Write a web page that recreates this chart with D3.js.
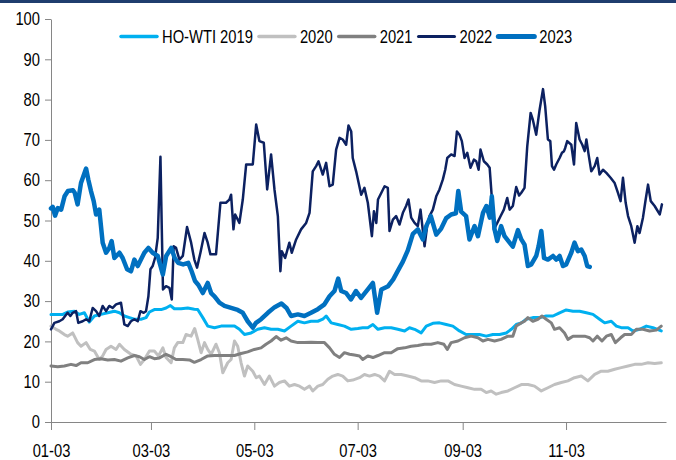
<!DOCTYPE html>
<html>
<head>
<meta charset="utf-8">
<script src="https://cdn.jsdelivr.net/npm/d3@7"></script>
<style>
    body { margin: 0; background: #fff; }
    svg text {
        font-family: "Liberation Sans", Arial, sans-serif;
        font-size: 18px;
        fill: #000;
    }
</style>
</head>
<body>
<svg id="chart"></svg>
<script>
// Dimensions
const width = 676;
const height = 460;
// narrow look: Liberation Sans squeezed horizontally
const squeeze = 0.82;

// x = days after 01-03, y = HO-WTI spread
const tickDays = [0, 59, 120, 181, 243, 304];
const tickLabels = ["01-03", "03-03", "05-03", "07-03", "09-03", "11-03"];
const yTicks = [0, 10, 20, 30, 40, 50, 60, 70, 80, 90, 100];

const seriesNames = ["HO-WTI 2019", "2020", "2021", "2022", "2023"];
const seriesColors = ["#00b0f0", "#c0c0c0", "#808080", "#0c2161", "#0070c0"];
const seriesWidths = [3, 3, 3, 2.5, 4.5];

const hoWti2019 = [[0,26.7],[4,26.7],[7,26.7],[9.8,27.3],[13.8,27.5],[16.7,26.7],[19.7,27.1],[22.6,24.8],[25.6,26.3],[29.5,26.7],[33.5,27.1],[37.4,27.5],[40.4,27.1],[43.3,26.3],[46.3,25.9],[49.2,25.5],[53.1,25.5],[56.1,25.9],[58.1,27.3],[61,27.9],[65,27.9],[67.9,28.3],[70.5,28.9],[72.8,28.1],[76.8,28.1],[80.7,28.3],[84.6,28],[86.6,27.9],[89.6,25.9],[92.5,23.8],[96.5,23.4],[100.4,23.8],[104.3,23.8],[108.3,23.8],[111.2,23],[114.2,21.7],[118.1,22.1],[122,23],[126,23.4],[129.9,23],[133.9,23],[137.8,22.6],[141.7,23.8],[145.7,25],[149.6,24.6],[153.5,25],[157.5,25],[160.4,25.5],[162.4,26.3],[165.4,24.6],[169.3,24.2],[173.2,23.8],[177.2,23],[181.1,23.2],[184,23.4],[187,23.4],[190,24.2],[193,23],[196.9,23.4],[200.8,23.4],[204.7,23],[208.7,22.6],[211.6,23.4],[214.6,23],[218.5,22.1],[221.5,23.8],[225.4,24.5],[229.3,24.6],[233.3,24.2],[237.2,23.8],[241.1,22.6],[245,21.7],[249,21.7],[252.9,21.7],[256.9,21.3],[260.8,21.7],[264.8,21.7],[268.7,22.1],[271.7,23],[274.6,24.2],[277.6,24.6],[280.5,25.5],[284.4,25.9],[288.4,25.9],[292.3,26.3],[296.3,26.3],[300.2,27.1],[304.1,27.8],[308.1,27.5],[312,27.5],[316,27.1],[319.9,26.7],[323.8,25.5],[326.8,24.6],[330.7,25],[333.7,23.8],[336.6,23.4],[340.6,23.4],[343.5,22.6],[347.4,23],[351.4,23.8],[355.3,23.4],[360.2,22.6]];

const hoWti2020 = [[0,23.8],[3,23],[4.9,22.6],[7.9,21.7],[9.8,21.3],[12.8,22.1],[15.7,19.7],[17.7,18.8],[20.7,19.7],[23.2,18],[25.6,17.6],[28.5,15.5],[30.5,16.4],[32.5,18],[35.4,18.8],[38.4,18],[40.4,19.3],[43.3,18],[47.2,16.8],[50.2,16.4],[52.8,14.3],[55.1,15.5],[58.1,17.6],[61,17.6],[63.4,16.4],[66,18.4],[67.9,16],[70.9,14.7],[72.8,18.4],[74.8,19.7],[77.8,19.7],[79.7,21.7],[82.7,21.3],[84.8,23.2],[86.6,20.5],[88.6,17.2],[90.6,19.7],[92.5,18],[94.5,16.8],[97.4,19.3],[99.4,17.2],[101.4,12.2],[104.3,14.7],[106.3,15.5],[108.3,20.1],[110.2,18.8],[112.2,14.7],[114.2,11.4],[116.1,13.9],[119.1,12.6],[121.1,11],[123,11.4],[126,9.3],[128.9,11.4],[131.9,8.9],[134.8,9.8],[137.8,10.2],[140.7,8.9],[143.7,9.3],[146.7,8.9],[149.6,8.1],[152.6,8.9],[154.5,7.7],[157.5,8.9],[160.4,9.3],[163.4,10.6],[166.3,11.4],[169.3,11.8],[172.2,11.4],[175.2,10.2],[178.1,10.4],[182.1,11],[185,11.8],[188,11.4],[191,11.8],[193.9,11.4],[196.9,10.2],[199.8,12.6],[202.8,11.8],[206.7,11.8],[210.6,11.4],[214.6,11],[218.5,10.2],[222.4,10.2],[226.4,9.8],[230.3,10.2],[234.3,10.2],[238.2,9.3],[242.1,8.9],[246.1,8.5],[250,8.1],[253.9,8.1],[256.9,7.3],[259.8,7.7],[262.8,6.9],[265.7,7.3],[269.7,7.7],[273.6,8.5],[277.6,9.3],[281.5,9.3],[285.4,8.9],[289.4,7.7],[293.3,8.5],[297.2,9.3],[301.2,9.8],[305.1,10.2],[309,11],[313,11.4],[316.9,10.2],[320.9,11.8],[324.8,12.6],[328.7,12.6],[332.7,13.1],[336.6,13.5],[340.6,13.9],[344.5,14.3],[348.4,14.3],[352.4,14.7],[356.3,14.5],[360.2,14.7]];

const hoWti2021 = [[0,13.9],[4,13.7],[7.9,13.9],[11.8,14.3],[14.8,14],[17.7,14.7],[21.7,14.7],[25.6,15.5],[29.5,15.7],[33.5,15.4],[37.4,15.5],[41.3,15.1],[45.3,15.9],[49.2,16.5],[52.2,16.2],[55.1,15.5],[58.1,16.2],[61,15.7],[64,15.9],[67.9,16.8],[70.9,16.2],[73.8,15.5],[77.8,15.5],[81.7,15.4],[84.6,14.8],[88.6,15.5],[92.5,16.4],[96.5,16.5],[100.4,16.5],[104.3,16.5],[108.3,16.5],[112.2,17],[116.1,17.4],[120,18],[124,18.4],[126.9,19.3],[129.9,20.1],[132.9,21.2],[135.8,20.3],[138.8,20.9],[141.7,20.1],[145.7,19.7],[149.6,19.7],[153.5,19.8],[157.5,19.7],[161.4,19.7],[164.4,18.4],[167.3,16.8],[170.3,16],[173.2,17.2],[176.2,16.8],[179.1,16.6],[182.1,16.4],[184,15.5],[187,16.4],[190,16],[193,16.5],[196.9,17.2],[200.8,17.2],[204.7,18.2],[208.7,18.4],[212.6,18.8],[216.5,19],[220.5,19.3],[224.4,19.3],[228.3,19.7],[231.9,19.3],[233.9,18],[236.2,19.7],[240.2,20.1],[244.1,20.9],[248,21.3],[252,20.9],[254.9,20.1],[257.9,20.5],[261.8,20.1],[265.7,20.5],[269.7,21.3],[272.6,21.3],[274.6,23.8],[277.6,24.6],[279.5,25],[281.5,25.9],[284.4,25],[287.4,25.5],[289.8,26.3],[292.3,25.5],[295.3,24.6],[297.2,23],[300.2,23.4],[303.1,22.1],[305.1,20.5],[308.1,21.3],[311,21.3],[315,21.3],[317.9,20.9],[319.9,20.1],[322.4,21.3],[325.2,20.1],[327.8,21.3],[330.7,21.7],[333.1,19.7],[336.2,20.9],[338.6,21.7],[342.5,21.7],[345.5,23],[349.4,23],[353.3,22.6],[357.3,22.8],[360.2,23.8]];

const hoWti2022 = [[0,23],[2,24.6],[4.9,25],[6.9,25.5],[9.8,27.1],[11.4,26.3],[12.8,27.1],[14.8,27.5],[16.1,24.6],[18.7,25],[20.7,25.5],[22.6,25],[24.6,28.3],[26.6,27.5],[28.5,26.3],[30.5,28.8],[32.5,27.5],[34.4,28.8],[36.4,28.3],[38.4,29.2],[41.3,29.6],[43.3,24.2],[45.3,23.8],[47.2,25],[49.2,25.5],[51.2,25],[52.8,27.5],[54.7,27.1],[56.1,27.5],[57.5,31.2],[58.7,37.9],[60,38.7],[61.4,40.7],[63,45.7],[64.6,65.8],[65.4,47.8],[66.1,32.9],[67.9,33.7],[69.9,33.3],[71.3,30.4],[72.4,43.6],[73.8,43.2],[75.8,40.3],[77.8,41.2],[80.3,48.4],[82.7,44.5],[84.6,40.3],[86.2,38.3],[88.2,42],[90.6,46.9],[92.5,44.5],[94.1,41.6],[97.4,41.6],[100,54.4],[103.3,54.4],[105.3,55.2],[106.3,56.4],[107.7,47.8],[108.7,51.5],[111.2,49.4],[113.2,55.2],[115.2,63.9],[119.1,63.9],[121.1,73.8],[123,69.7],[125.6,69.3],[127.6,57.7],[129.9,66.4],[131.9,57.7],[133.9,51.1],[135.4,37.4],[136.2,42.4],[138.2,40.7],[140.7,44.5],[142.1,42],[144.7,45.3],[147.6,47.8],[150.6,49.4],[152.6,51.9],[154.5,62.2],[156.5,63.5],[157.9,64.7],[160.4,61.4],[162.4,64.3],[164.4,58.5],[166.3,58.9],[168.3,67.6],[170.3,70.5],[172.2,70.1],[174.2,68.8],[175.6,73.6],[177.2,72.1],[178.1,65.5],[180.1,62.2],[183.1,56.4],[185,58.1],[187,54.4],[189.4,46.1],[190.6,52.3],[192,49.4],[193,55.2],[195,56.9],[196.9,58.5],[198.8,58.1],[199.8,47.4],[201.8,50.2],[203.7,51.1],[205.7,49],[207.7,51.9],[209.6,53.6],[211,55.2],[212.6,50.7],[214.6,49.4],[216.5,48.6],[218.1,52.7],[220.5,43.6],[222,48.6],[223.4,51.1],[225.4,52.7],[227.4,56],[229.3,57.7],[231.3,60.2],[232.7,62.6],[233.9,65.5],[236.2,66.4],[238.2,66],[239.6,72.1],[241.1,71.3],[242.5,69.7],[244.1,65.5],[245.7,66.8],[247.6,63.1],[249.6,65.1],[251,64.7],[252.4,62.6],[253.5,67.6],[255.5,64.7],[257.5,63.9],[258.9,63.1],[260.2,55.6],[261.4,47.8],[263.4,49.4],[265.4,51.1],[267.3,52.7],[269.3,55.6],[270.7,52.7],[272.6,53.6],[274.6,58.3],[276.3,56.2],[277.6,56.9],[279.5,58.1],[281.1,68.4],[283.1,76.7],[284.4,75],[286.4,71.3],[288.4,77.5],[290.4,82.6],[291.7,78.3],[293.3,70.1],[294.7,69.7],[295.7,63.5],[296.9,62.6],[298.2,63.9],[300.2,65.5],[301.6,66.8],[302.8,67.2],[303.5,68],[304.7,69.7],[307.1,68.8],[308.7,63.9],[310,74.2],[312,70.1],[313.6,68.8],[315,67.2],[316,70.1],[317.3,66.4],[318.9,62.2],[320.9,63.5],[322.4,65.5],[323.8,61.4],[325.8,62.6],[327.8,61.8],[330.3,60.6],[332.7,59.3],[334.6,56.9],[336.2,54.8],[337.6,60.6],[339.2,54.4],[340.6,51.1],[342.5,48.6],[344.5,44.5],[346.1,48.6],[347.4,46.9],[349.4,50.7],[351,55.2],[352.4,58.9],[354,54.8],[356.3,53.6],[359.3,51.5],[360.6,54]];

const hoWti2023 = [[0,53],[1,53.4],[2.4,51.2],[4,53.1],[6,52.7],[8,56],[10,57.3],[13,57.5],[14,56.9],[15.7,54],[17.7,59.3],[20.7,62.9],[22,60.2],[23.6,57.3],[25.2,54.8],[26.6,51.5],[28.5,52.7],[30.5,44.5],[32.5,42],[34.4,43.2],[35.8,44.9],[37.4,40.7],[40.4,42],[42.3,40.7],[44.9,37.9],[47.2,37.4],[49.2,40.3],[51.2,38.7],[53.1,40.3],[55.1,42],[57.5,43.2],[60,42],[63,41.2],[66,36.6],[68,41.2],[71,43.2],[73,40.7],[75,39.5],[78,39.1],[81,39.5],[83,37.4],[85,35],[87,34],[89.6,32],[92.5,34.5],[94.5,32],[96.5,31.2],[99.4,29.6],[102.4,28.8],[106.3,28.3],[110.2,27.8],[113.2,27.1],[116.1,25],[119.1,23.4],[121,24.6],[124,25.5],[128,27.1],[132,28.5],[136,29.4],[139,28.3],[141.7,26.3],[145.7,26.7],[149.6,26.3],[153.5,27.1],[157.5,28],[161.4,29.2],[164.4,31.2],[167.3,32.5],[169.5,35.6],[171.3,32.5],[174.2,32],[177,30.4],[180,32.5],[183,30.8],[187,32.9],[190,34.5],[192.5,27.1],[195,32.9],[199,33.7],[202,35.4],[204.7,37.5],[207.7,39.8],[210.6,42.6],[213.6,46.7],[216.5,47.8],[219.5,45.3],[221.5,48.6],[224.2,51.1],[227.4,46.5],[230.3,48],[233.3,50.6],[236.2,51.5],[239,51.8],[240.4,57.3],[242.1,52.2],[245,51.1],[247,45.3],[250,48.6],[252,46.1],[255,51.9],[257,53.6],[259,50.7],[260.2,56],[261.8,47.8],[263.4,44.9],[265.7,48.6],[267.7,46.1],[270.7,44.5],[272.6,43.5],[275.6,47.6],[277.6,45.3],[279.5,44],[281.5,38.7],[283.5,39.1],[286.4,41.2],[287.8,43.6],[289.4,47.4],[291,40.7],[293.3,40.3],[296.3,41.2],[298.2,40.3],[300.2,41.2],[302.2,38.7],[304.1,39.1],[307.1,42],[309,44.5],[311,42.4],[313,42.8],[315,41.2],[316.5,38.7],[318,38.5]];

const seriesData = [hoWti2019, hoWti2020, hoWti2021, hoWti2022, hoWti2023];

const svg = d3.select("#chart")
    .attr("width", width)
    .attr("height", height);

// top band
svg.append("rect")
    .attr("x", 0)
    .attr("y", 0)
    .attr("width", width)
    .attr("height", 3)
    .attr("fill", "#1f3d6e");

const x = d3.scaleLinear()
    .domain([0, 363])
    .range([51, 666]);

const y = d3.scaleLinear()
    .domain([0, 100])
    .range([422, 19]);

const axisColor = "#868686";

const yAxis = svg.append("g")
    .attr("transform", "translate(51,0)")
    .call(d3.axisLeft(y).tickValues(yTicks).tickSize(6).tickSizeOuter(0).tickPadding(5));

const xAxis = svg.append("g")
    .attr("transform", "translate(0,422)")
    .call(d3.axisBottom(x)
        .tickValues(tickDays)
        .tickFormat((d, i) => tickLabels[i])
        .tickSize(8)
        .tickSizeOuter(0)
        .tickPadding(14));

[yAxis, xAxis].forEach(g => {
    g.attr("font-size", null).attr("font-family", null);
    g.select(".domain").attr("stroke", axisColor);
    g.selectAll(".tick line").attr("stroke", axisColor);
    // squeeze the labels, keeping their anchor point
    g.selectAll(".tick text").each(function() {
        const t = d3.select(this);
        const tx = +t.attr("x") || 0;
        t.attr("x", tx / squeeze).attr("transform", `scale(${squeeze},1)`);
    });
});

const line = d3.line()
    .x(d => x(d[0]))
    .y(d => y(d[1]));

svg.append("g")
    .selectAll("path")
    .data(seriesData)
    .join("path")
    .attr("fill", "none")
    .attr("stroke", (d, i) => seriesColors[i])
    .attr("stroke-width", (d, i) => seriesWidths[i])
    .attr("stroke-linejoin", "round")
    .attr("stroke-linecap", "round")
    .attr("d", line);

// Legend
const legend = svg.append("g").attr("transform", "translate(0,36.5)");
let cx = 121;
seriesNames.forEach((name, i) => {
    legend.append("line")
        .attr("x1", cx)
        .attr("x2", cx + 36)
        .attr("y1", 0)
        .attr("y2", 0)
        .attr("stroke", seriesColors[i])
        .attr("stroke-width", seriesWidths[i] + 0.5)
        .attr("stroke-linecap", "round");
    const t = legend.append("text")
        .attr("transform", `translate(${cx + 41},6.5) scale(${squeeze},1)`)
        .text(name);
    cx += 41 + t.node().getComputedTextLength() * squeeze + 6;
});
</script>
</body>
</html>
